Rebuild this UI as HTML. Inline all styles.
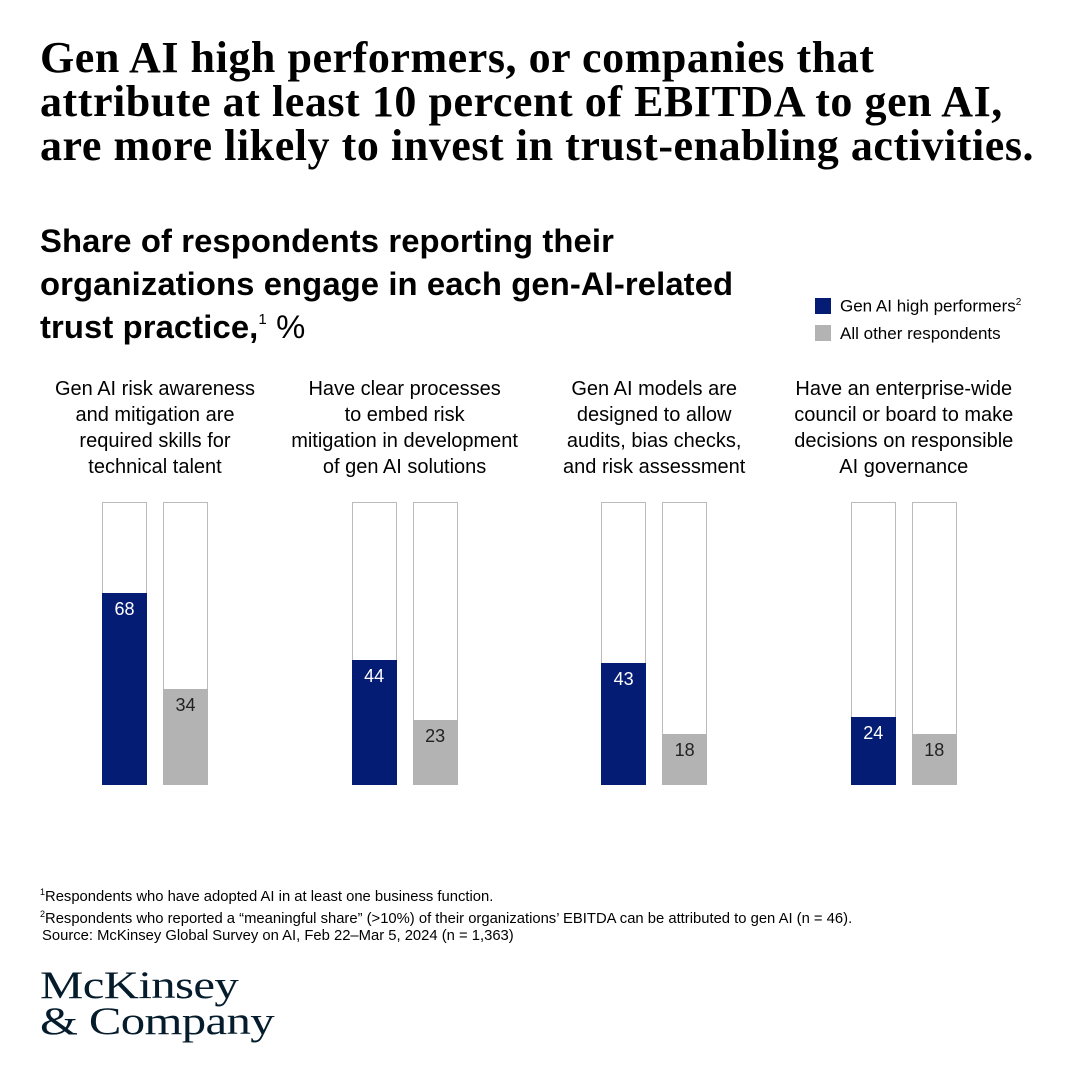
<!DOCTYPE html>
<html><head><meta charset="utf-8"><style>
body{margin:0;width:1080px;height:1080px;background:#fff;position:relative;font-family:"Liberation Sans",sans-serif;color:#000;overflow:hidden}
.abs{position:absolute}
h1{position:absolute;left:40px;top:36px;margin:0;font-family:"Liberation Serif",serif;font-weight:bold;font-size:44px;line-height:44px;width:1060px;white-space:nowrap;letter-spacing:0.55px}
.sub{left:40px;top:219px;font-size:32.8px;line-height:43px;font-weight:bold;white-space:nowrap;letter-spacing:0.1px}
.sub sup{font-size:15px;font-weight:normal;line-height:0;vertical-align:0;position:relative;top:-14px}
.cat{font-size:20px;line-height:26px;text-align:center;width:260px;top:376px;white-space:nowrap}
.lbl{font-size:18px;text-align:center;width:45px}
.fn{font-size:14.8px;line-height:20px;left:40px;white-space:nowrap}
</style></head><body>
<h1>Gen AI high performers, or companies that<br>attribute at least 10 percent of EBITDA to gen AI,<br>are more likely to invest in trust-enabling activities.</h1>
<div class="abs sub">Share of respondents reporting their<br>organizations engage in each gen-AI-related<br>trust practice,<sup>1</sup> <span style="font-weight:normal">%</span></div>
<div class="abs" style="left:815px;top:289px;font-size:17px;line-height:27px">
<div><span style="display:inline-block;width:16px;height:16px;background:#051c75;vertical-align:-2px;margin-right:9px"></span>Gen AI high performers<sup style="font-size:10px">2</sup></div>
<div><span style="display:inline-block;width:16px;height:16px;background:#b3b3b3;vertical-align:-2px;margin-right:9px"></span>All other respondents</div>
</div>
<div id="chart"></div>
<div class="abs fn" style="top:882px"><sup style="font-size:9px">1</sup>Respondents who have adopted AI in at least one business function.</div>
<div class="abs fn" style="top:904px"><sup style="font-size:9px">2</sup>Respondents who reported a “meaningful share” (&gt;10%) of their organizations’ EBITDA can be attributed to gen AI (n = 46).</div>
<div class="abs fn" style="top:926px;left:42px">Source: McKinsey Global Survey on AI, Feb 22–Mar 5, 2024 (n = 1,363)</div>
<div class="abs" style="left:40px;top:968px;font-family:'Liberation Serif',serif;font-size:39px;line-height:36px;color:#051c2c;letter-spacing:-0.5px;transform:scaleX(1.25);transform-origin:left top">McKinsey<br>&amp; Company</div>
<script>
const categories=["Gen AI risk awareness<br>and mitigation are<br>required skills for<br>technical talent","Have clear processes<br>to embed risk<br>mitigation in development<br>of gen AI solutions","Gen AI models are<br>designed to allow<br>audits, bias checks,<br>and risk assessment","Have an enterprise-wide<br>council or board to make<br>decisions on responsible<br>AI governance"];
const highPerformers=[68,44,43,24];
const otherRespondents=[34,23,18,18];
const chart=document.getElementById('chart');
const top0=502,bottom0=785,H=bottom0-top0,W=45;
function y(v){return bottom0-v/100*H;}
function gx(i){return 102+i*249.6;}
categories.forEach((c,i)=>{
  const d=document.createElement('div');d.className='abs cat';d.style.left=(gx(i)+53-130)+'px';d.innerHTML=c;
  
  
  chart.appendChild(d);
  [[highPerformers[i],'#051c75','#fff',0,'bar-high'],[otherRespondents[i],'#b3b3b3','#222',61,'bar-other']].forEach(s=>{
    const x=gx(i)+s[3];
    const bg=document.createElement('div');bg.className='abs';
    bg.style.cssText=`left:${x}px;top:${top0}px;width:${W-2}px;height:${H-1}px;border:1px solid #bbb;border-bottom:none`;
    
    
    chart.appendChild(bg);
    const b=document.createElement('div');b.className='abs';
    b.style.cssText=`left:${x}px;top:${y(s[0])}px;width:${W}px;height:${bottom0-y(s[0])}px;background:${s[1]}`;
    
    
    chart.appendChild(b);
    const l=document.createElement('div');l.className='abs lbl';
    l.style.cssText+=`left:${x}px;top:${y(s[0])+6}px;color:${s[2]}`;l.textContent=s[0];
    
    
    chart.appendChild(l);
  });
});
</script>
</body></html>
